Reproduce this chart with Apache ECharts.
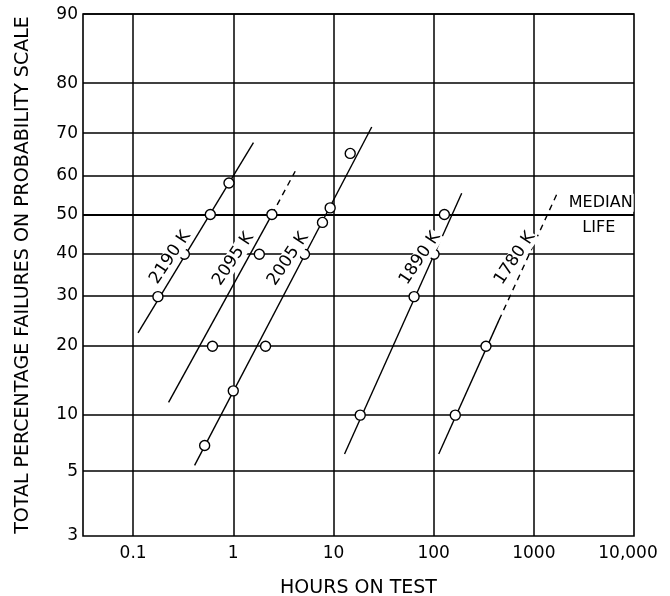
<!DOCTYPE html>
<html>
<head>
<meta charset="UTF-8">
<title>Hours on test</title>
<script src="https://cdn.jsdelivr.net/npm/echarts@6/dist/echarts.min.js"></script>
</head>
<body style="margin:0">
<div id="chart" style="width:670px;height:596px"></div>
<script type="text/javascript">
// x gridlines (hours) and y gridlines (percent on probability scale)
var xTicks = [0.1, 1, 10, 100, 1000, 10000];
var xTickLabels = ['0.1', '1', '10', '100', '1000', '10,000'];
// bottom edge of the scale sits at about 2 %, but is labelled "3" on the original
var yTickPct = [2, 5, 10, 20, 30, 40, 50, 60, 70, 80, 90];
var yTickLabels = ['3', '5', '10', '20', '30', '40', '50', '60', '70', '80', '90'];

// measured points: hours, percent failed
var hours2190 = [0.177, 0.325, 0.59, 0.906];
var pct2190 = [30, 40, 50, 58];
var hours2095 = [0.62, 1.82, 2.43];
var pct2095 = [20, 40, 50];
var hours2005 = [0.518, 1.0, 2.1, 5.14, 7.77, 9.27, 14.7];
var pct2005 = [7, 13, 20, 40, 48, 51.7, 65.2];
var hours1890 = [18.5, 63.8, 101, 128];
var pct1890 = [10, 30, 40, 50];
var hours1780 = [164.5, 333];
var pct1780 = [10, 20];

// fitted lines (end points), solid and dashed parts
var fit2190 = [[0.112, 22.5], [1.59, 67.7]];
var fit2095 = [[0.226, 11.5], [2.43, 50]];
var fit2095Dash = [[2.43, 50], [4.15, 60.9]];
var fit2005 = [[0.411, 5.45], [24.1, 71.2]];
var fit1890 = [[12.9, 6.3], [190.6, 55.4]];
var fit1780 = [[112.4, 6.3], [449, 25]];
var fit1780Dash = [[449, 25], [1711, 55.4]];

// curve labels
var curveNames = ['2190 K', '2095 K', '2005 K', '1890 K', '1780 K'];
var curveLabelHours = [0.235, 1.0, 3.53, 73.2, 648];
var curveLabelPct = [39.2, 38.8, 38.8, 39.0, 39.0];

// inverse normal (Acklam)
function probit(p){
	var a=[-39.69683028665376,220.9460984245205,-275.9285104469687,138.3577518672690,-30.66479806614716,2.506628277459239];
	var b=[-54.47609879822406,161.5858368580409,-155.6989798598866,66.80131188771972,-13.28068155211861];
	var c=[-0.007784894002430293,-0.3223964580411365,-2.400758277161838,-2.549732539343734,4.374664141464968,2.938163982698783];
	var d=[0.007784695709041462,0.3224671290700398,2.445134137142996,3.754408661907416];
	var q,r;
	if(p<0.02425){
		q=Math.sqrt(-2*Math.log(p));
		return (((((c[0]*q+c[1])*q+c[2])*q+c[3])*q+c[4])*q+c[5])/((((d[0]*q+d[1])*q+d[2])*q+d[3])*q+1);
	}
	if(p>1-0.02425){
		q=Math.sqrt(-2*Math.log(1-p));
		return -(((((c[0]*q+c[1])*q+c[2])*q+c[3])*q+c[4])*q+c[5])/((((d[0]*q+d[1])*q+d[2])*q+d[3])*q+1);
	}
	q=p-0.5; r=q*q;
	return (((((a[0]*r+a[1])*r+a[2])*r+a[3])*r+a[4])*r+a[5])*q/(((((b[0]*r+b[1])*r+b[2])*r+b[3])*r+b[4])*r+1);
}
function z(pct){ return probit(pct/100); }
function pts(hs,ps){
	var out=[];
	for(var i=0;i<hs.length;i++) out.push([hs[i], z(ps[i])]);
	return out;
}
function seg(arr){ return arr.map(function(d){ return [d[0], z(d[1])]; }); }

var FONT = 'DejaVu Sans';
var gridLines = [];
for(var i=1;i<yTickPct.length;i++){
	gridLines.push({yAxis: z(yTickPct[i]), name: yTickLabels[i],
		lineStyle: {width: yTickPct[i]===50 ? 2.2 : 1.5}});
}
for(var j=0;j<xTicks.length-1;j++){
	gridLines.push({xAxis: xTicks[j], name: xTickLabels[j], label:{distance:9}});
}
// labels at the frame edges
gridLines.push({yAxis: z(yTickPct[0]), name: yTickLabels[0], lineStyle:{width:0}});
gridLines.push({xAxis: xTicks[xTicks.length-1], name: xTickLabels[xTicks.length-1], lineStyle:{width:0},
	label:{distance:9, offset:[-6,0]}});

function fitSeries(data, dashed){
	return {type:'line', data: seg(data), symbol:'none', silent:true, z:3,
		lineStyle:{color:'#000', width:1.4, type: dashed ? [6,5] : 'solid'}};
}
function pointSeries(name, hs, ps){
	return {type:'scatter', name:name, data: pts(hs,ps), symbol:'circle', symbolSize:10, z:5,
		itemStyle:{color:'#fff', borderColor:'#000', borderWidth:1.4, opacity:1}};
}

var labelData = [];
for(var k=0;k<curveNames.length;k++){
	labelData.push({value:[curveLabelHours[k], z(curveLabelPct[k])], name: curveNames[k]});
}

var chart = echarts.init(document.getElementById('chart'));
var option = {
	animation:false,
	backgroundColor:'#fff',
	grid:{left:83, right:36, top:14, bottom:60, show:true, borderColor:'#000', borderWidth:1.6,
		containLabel:false, outerBoundsMode:'none'},
	xAxis:{
		type:'log', logBase:10, min:Math.pow(10,-1.5), max:10000,
		axisLine:{show:false}, axisTick:{show:false}, axisLabel:{show:false}, splitLine:{show:false},
		name:'HOURS ON TEST', nameLocation:'middle', nameGap:43,
		nameTextStyle:{fontFamily:FONT, fontSize:19, color:'#000'}
	},
	yAxis:{
		type:'value', min:z(yTickPct[0]), max:z(yTickPct[yTickPct.length-1]),
		axisLine:{show:false}, axisTick:{show:false}, axisLabel:{show:false}, splitLine:{show:false},
		name:'TOTAL PERCENTAGE FAILURES ON PROBABILITY SCALE', nameLocation:'middle', nameGap:50, nameRotate:90,
		nameTextStyle:{fontFamily:FONT, fontSize:19, color:'#000'}
	},
	series:[
		{type:'scatter', data:[], silent:true,
			markLine:{silent:true, symbol:'none', animation:false,
				lineStyle:{color:'#000', width:1.5, type:'solid'},
				label:{show:true, position:'start', formatter:'{b}', fontFamily:FONT, fontSize:17, color:'#000', distance:5},
				data:gridLines}},
		fitSeries(fit2190,false),
		fitSeries(fit2095,false),
		fitSeries(fit2095Dash,true),
		fitSeries(fit2005,false),
		fitSeries(fit1890,false),
		fitSeries(fit1780,false),
		fitSeries(fit1780Dash,true),
		pointSeries('2190 K', hours2190, pct2190),
		pointSeries('2095 K', hours2095, pct2095),
		pointSeries('2005 K', hours2005, pct2005),
		pointSeries('1890 K', hours1890, pct1890),
		pointSeries('1780 K', hours1780, pct1780),
		{type:'scatter', data:labelData, symbolSize:0, silent:true, z:6, itemStyle:{opacity:1},
			label:{show:true, position:'inside', formatter:'{b}', rotate:56, fontFamily:FONT, fontSize:17, color:'#000',
				opacity:1, backgroundColor:'#fff', padding:[0,1]}},
		{type:'scatter', symbolSize:0, silent:true, z:6, itemStyle:{opacity:1},
			data:[{value:[4650, z(53.0)], name:'MEDIAN'}, {value:[4450, z(46.6)], name:'LIFE'}],
			label:{show:true, position:'inside', formatter:'{b}', fontFamily:FONT, fontSize:16, color:'#000',
				opacity:1, backgroundColor:'#fff', padding:[1,1]}}
	]
};
chart.setOption(option);
</script>
</body>
</html>
